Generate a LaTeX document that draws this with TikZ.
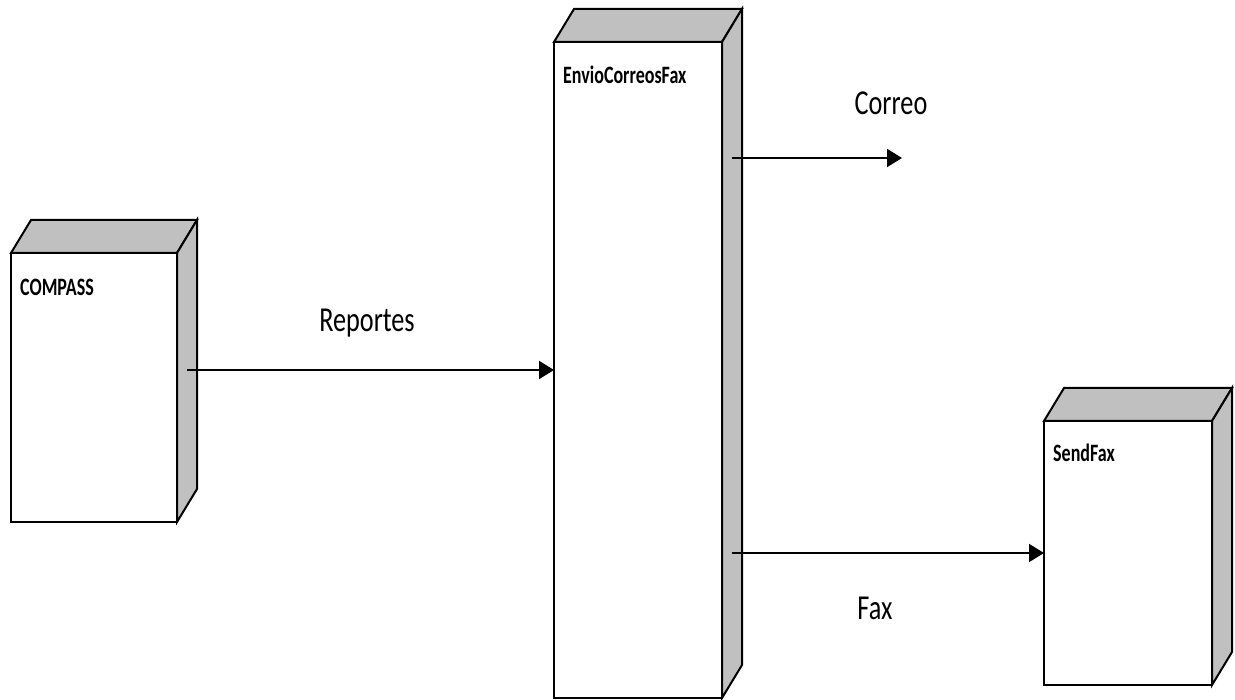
\documentclass[tikz,border=0pt]{standalone}
\usepackage{fontspec}
\setmainfont{Carlito}
\usetikzlibrary{arrows.meta,calc}
\definecolor{sidegray}{RGB}{192,192,192}
\tikzset{
  front/.style={draw=black, line width=2pt, fill=white, anchor=north west,
                inner sep=0pt, outer sep=0pt},
  face/.style={draw=black, line width=2pt, fill=sidegray, line join=miter},
  conn/.style={line width=2pt, -{Triangle[length=15pt,width=18pt]}},
  nodetitle/.style={anchor=west, inner sep=0pt,
                    font=\fontsize{25}{28}\selectfont\bfseries},
  flowlabel/.style={inner sep=0pt, font=\fontsize{35}{40}\selectfont},
}
% three-dimensional box: top and right faces behind a named front face
\newcommand{\boxfaces}[1]{%
  \draw[face] (#1.north west) -- ++(20,-33) -- ($(#1.north east)+(20,-33)$)
              -- (#1.north east) -- cycle;
  \draw[face] (#1.north east) -- ++(20,-33) -- ($(#1.south east)+(20,-33)$)
              -- (#1.south east) -- cycle;
}
\begin{document}
\begin{tikzpicture}[x=1pt, y=-1pt]
  \useasboundingbox (0,0) rectangle (1235,700);

  % nodes
  \node[front, minimum width=166pt, minimum height=269pt] (compass) at (11,253) {};
  \boxfaces{compass}
  \node[nodetitle] (compassT) at ($(compass.north west)+(9,34)$) {\scalebox{0.72}[1]{COMPASS}};

  \node[front, minimum width=168pt, minimum height=656pt] (envio) at (554,42) {};
  \boxfaces{envio}
  \node[nodetitle] (envioT) at ($(envio.north west)+(9,33)$) {\scalebox{0.72}[1]{EnvioCorreosFax}};

  \node[front, minimum width=168pt, minimum height=264pt] (sendfax) at (1044,421) {};
  \boxfaces{sendfax}
  \node[nodetitle] (sendfaxT) at ($(sendfax.north west)+(9,32)$) {\scalebox{0.72}[1]{SendFax}};

  % connectors
  \coordinate (compassSide) at ($(compass.east)+(10,0)$);
  \draw[conn] (compassSide |- envio.west) -- (envio.west);

  \coordinate (correoStart) at ($(envio.north east)+(10,116)$);
  \coordinate (correoEnd) at (902,158);
  \draw[conn] (correoStart) -- (correoEnd);

  \coordinate (faxStart) at ($(envio.east |- sendfax.west)+(10,0)$);
  \draw[conn] (faxStart) -- (sendfax.west);

  % connector labels
  \node[flowlabel] (reportes) at (367,323) {\scalebox{0.75}[1]{Reportes}};
  \node[flowlabel] (correo) at (891,103) {\scalebox{0.75}[1]{Correo}};
  \node[flowlabel] (fax) at (875,608) {\scalebox{0.75}[1]{Fax}};
\end{tikzpicture}
\end{document}
